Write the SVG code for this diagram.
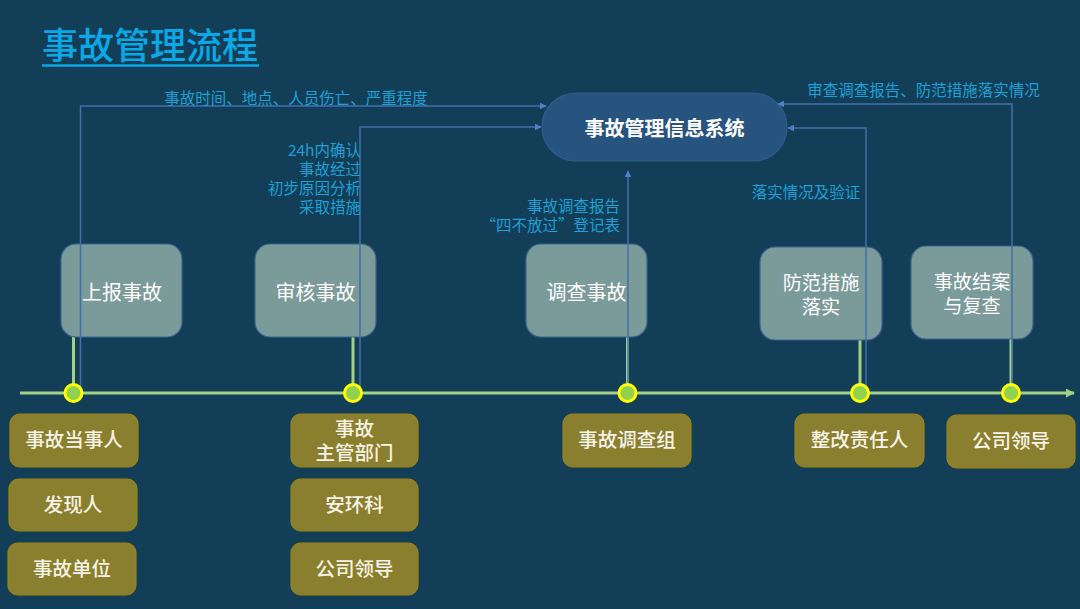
<svg xmlns="http://www.w3.org/2000/svg" width="1080" height="609" viewBox="0 0 1080 609">
<defs>
<style>
text{font-family:"Noto Sans CJK SC","Noto Sans",sans-serif}
.lbl{fill:#1f9fd6;font-size:15.5px}
.conn{fill:none;stroke:#4170aa;stroke-width:1.5}
.stem{stroke:#a4cf86;stroke-width:3}
.dot{fill:#92d050;stroke:#ffff00;stroke-width:3}
.proc{fill:#7b9a9a;stroke:#3d6491;stroke-width:1.2}
.ptxt{fill:#ffffff;font-size:20px;text-anchor:middle}
.ptxt2{fill:#ffffff;font-size:19.2px;text-anchor:middle}
.role{fill:#8a7f2e;stroke:#9a8414;stroke-width:1.2}
.rtxt{fill:#f7f3e6;font-size:19.5px;text-anchor:middle;font-weight:500}
</style>
<marker id="arr" viewBox="0 0 10 10" refX="9" refY="5" markerWidth="7" markerHeight="7" markerUnits="userSpaceOnUse" orient="auto">
<path d="M0,0 L10,5 L0,10 z" fill="#4f7fc8"/>
</marker>
<marker id="tarr" viewBox="0 0 10 10" refX="9" refY="5" markerWidth="9" markerHeight="9" markerUnits="userSpaceOnUse" orient="auto">
<path d="M0,0 L10,5 L0,10 z" fill="#a4cf86"/>
</marker>
</defs>
<rect x="0" y="0" width="1080" height="609" fill="#123f57"/>
<g id="title">
<text x="42" y="58.5" font-size="36" font-weight="500" fill="#0aa8e6">事故管理流程</text>
<line x1="42" y1="65.5" x2="259" y2="65.5" stroke="#0aa8e6" stroke-width="2.5"/>
</g>
<g id="timeline">
<line x1="20" y1="393" x2="1074" y2="393" stroke="#a4cf86" stroke-width="3" marker-end="url(#tarr)"/>
</g>
<g id="stems">
<line class="stem" x1="73.5" y1="337" x2="73.5" y2="393"/>
<line class="stem" x1="353" y1="337" x2="353" y2="393"/>
<line class="stem" x1="627.5" y1="337" x2="627.5" y2="393"/>
<line class="stem" x1="860" y1="340" x2="860" y2="393"/>
<line class="stem" x1="1011" y1="339" x2="1011" y2="393"/>
</g>
<g id="system">
<rect x="542" y="93" width="245" height="68" rx="34" fill="#27547f" stroke="#2f5e8c" stroke-width="1.2"/>
<text x="664.5" y="135.5" font-size="20" fill="#ffffff" text-anchor="middle" font-weight="bold">事故管理信息系统</text>
</g>
<g id="step-report">
<rect class="proc" x="61" y="244" width="121" height="93" rx="15"/>
<text class="ptxt" x="122" y="299.5">上报事故</text>
</g>
<g id="step-review">
<rect class="proc" x="255" y="244" width="121" height="93" rx="15"/>
<text class="ptxt" x="315.5" y="299.5">审核事故</text>
</g>
<g id="step-investigate">
<rect class="proc" x="526" y="244" width="121" height="93" rx="15"/>
<text class="ptxt" x="586.5" y="299.5">调查事故</text>
</g>
<g id="step-prevent">
<rect class="proc" x="760" y="247" width="122" height="93" rx="15"/>
<text class="ptxt2" x="821" y="290">防范措施</text>
<text class="ptxt2" x="821" y="314">落实</text>
</g>
<g id="step-close">
<rect class="proc" x="911" y="246" width="122" height="93" rx="15"/>
<text class="ptxt2" x="972" y="289">事故结案</text>
<text class="ptxt2" x="972" y="312.5">与复查</text>
</g>
<g id="connectors">
<polyline class="conn" points="80.5,393 80.5,106 546,106" marker-end="url(#arr)"/>
<polyline class="conn" points="360,393 360,127 541,127" marker-end="url(#arr)"/>
<polyline class="conn" points="628,393 628,171" marker-end="url(#arr)"/>
<polyline class="conn" points="866,393 866,128 788,128" marker-end="url(#arr)"/>
<polyline class="conn" points="1012,393 1012,104 778,104" marker-end="url(#arr)"/>
</g>
<g id="dots">
<circle class="dot" cx="73.5" cy="393" r="8.5"/>
<circle class="dot" cx="353" cy="393" r="8.5"/>
<circle class="dot" cx="627.5" cy="393" r="8.5"/>
<circle class="dot" cx="860" cy="393" r="8.5"/>
<circle class="dot" cx="1011" cy="393" r="8.5"/>
</g>
<g id="labels">
<text class="lbl" x="296" y="103.5" text-anchor="middle" font-size="16.6">事故时间、地点、人员伤亡、严重程度</text>
<text class="lbl" x="361" y="156" text-anchor="end">24h内确认</text>
<text class="lbl" x="361" y="175" text-anchor="end">事故经过</text>
<text class="lbl" x="361" y="194" text-anchor="end">初步原因分析</text>
<text class="lbl" x="361" y="213" text-anchor="end">采取措施</text>
<text class="lbl" x="620" y="212" text-anchor="end">事故调查报告</text>
<text class="lbl" x="620" y="231" text-anchor="end">“四不放过”登记表</text>
<text class="lbl" x="806" y="198" text-anchor="middle" font-size="16">落实情况及验证</text>
<text class="lbl" x="923.5" y="96" text-anchor="middle" font-size="16">审查调查报告、防范措施落实情况</text>
</g>
<g id="role-party">
<rect class="role" x="10" y="414" width="128" height="53" rx="10"/>
<text class="rtxt" x="74" y="447">事故当事人</text>
</g>
<g id="role-finder">
<rect class="role" x="9" y="479" width="128" height="52" rx="10"/>
<text class="rtxt" x="73" y="512">发现人</text>
</g>
<g id="role-unit">
<rect class="role" x="8" y="543" width="128" height="52" rx="10"/>
<text class="rtxt" x="72" y="576">事故单位</text>
</g>
<g id="role-dept">
<rect class="role" x="291" y="414" width="127" height="53" rx="10"/>
<text class="rtxt" x="354.5" y="436" font-size="19">事故</text>
<text class="rtxt" x="354.5" y="460" font-size="19">主管部门</text>
</g>
<g id="role-safety">
<rect class="role" x="291" y="479" width="127" height="52" rx="10"/>
<text class="rtxt" x="354.5" y="512">安环科</text>
</g>
<g id="role-leader1">
<rect class="role" x="291" y="543" width="127" height="52" rx="10"/>
<text class="rtxt" x="354.5" y="576">公司领导</text>
</g>
<g id="role-team">
<rect class="role" x="563" y="414" width="128" height="53" rx="10"/>
<text class="rtxt" x="627" y="447">事故调查组</text>
</g>
<g id="role-owner">
<rect class="role" x="795" y="414" width="129" height="53" rx="10"/>
<text class="rtxt" x="859.5" y="447">整改责任人</text>
</g>
<g id="role-leader2">
<rect class="role" x="947" y="415" width="128" height="53" rx="10"/>
<text class="rtxt" x="1011" y="448">公司领导</text>
</g>
</svg>
